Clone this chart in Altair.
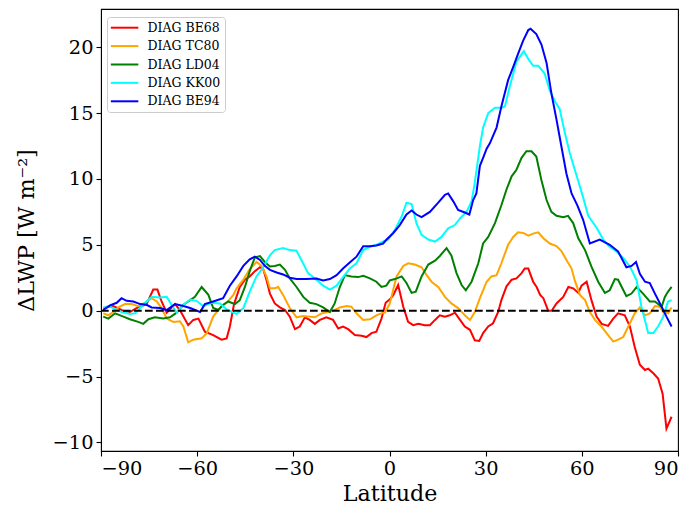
import altair as alt
import pandas as pd

series_names = ["DIAG BE68", "DIAG TC80", "DIAG LD04", "DIAG KK00", "DIAG BE94"]
series_colors = ["#ff0000", "#ffa500", "#008000", "#00ffff", "#0000ff"]

be68_lat = [-89.3, -86.2, -83.1, -81, -78.9, -75.8, -73.7, -72.4, -71.1, -69.5, -66.9, -65.4, -62.8, -61.2,
            -59.6, -57.6, -55, -52.4, -50.8, -49.8, -48.5, -46.7, -45.1, -43.6, -42, -40.4, -39.4, -38.4,
            -37.3, -35.8, -34.2, -32.6, -31.1, -29.5, -28, -26.4, -24.9, -23.3, -21.7, -19.7, -17.6, -16,
            -14.5, -12.9, -10.8, -8.7, -7.2, -5.6, -4.1, -2.5, -1.2, 0.3, 1.2, 2.7, 4.3, 5.8, 7.4, 9, 11,
            12.6, 14.2, 15.7, 17.3, 18.8, 20.4, 22, 23.5, 25.1, 26.6, 28, 29.2, 30.8, 32.3, 33.9, 34.9, 36.5,
            38.1, 39.6, 41.2, 42.2, 43.3, 44.8, 45.9, 47, 48, 49.5, 50.6, 52.1, 54.2, 55.8, 57.3, 58.9, 59.9,
            61.5, 63, 64.6, 66.2, 68.2, 69.8, 71.3, 73.4, 75, 76.5, 78.1, 79.7, 80.7, 82.3, 83.8, 85.2, 86.4, 88]
be68_val = [0.2, 0.35, 0, -0.1, 0.2, 0.5, 1.6, 1.6, 0.7, -0.15, 0.5, 0.05, -1.1, -0.7,
            -0.6, -1.6, -1.85, -2.2, -2.1, -1.2, 0.5, 1.8, 2.35, 2.6, 3.0, 3.3, 3.15, 2.35,
            1.3, 0.55, 0.25, 0.05, -0.45, -1.4, -1.2, -0.5, -0.7, -1.0, -0.7, -0.5, -0.7, -1.35,
            -1.2, -1.4, -1.85, -1.9, -2.0, -1.7, -1.6, -0.6, 0.6, 0.9, 1.2, 1.95, 0.3, -0.85, -1.1, -1.0, -1.1,
            -1.1, -0.7, -0.35, -0.45, -0.35, -0.15, -0.7, -1.2, -1.45, -2.25, -2.3, -1.7, -1.2, -0.95, -0.1, 0.8, 1.85,
            2.35, 2.45, 2.85, 3.2, 3.2, 2.2, 1.8, 1.2, 0.95, 0, 0, 0.55, 1.05, 1.8, 1.7, 1.35, 1.9,
            2.2, 0.8, -0.45, -1.0, -1.15, -0.6, -0.2, -0.35, -1.2, -2.75, -4.1, -4.5, -4.4, -4.75, -5.15, -6.3, -8.95, -8.05]

tc80_lat = [-89.3, -87.7, -86.2, -84.6, -82.5, -80.4, -78.4, -76.3, -74.2, -72.6, -71.1, -69.5, -67.4, -65.4,
            -64.3, -62.8, -61.2, -58.6, -57, -55, -52.9, -50.8, -48.7, -47.7, -45.6, -43.6, -41.5, -39.9,
            -38.4, -37.3, -35.8, -34.7, -33.2, -31.1, -29, -26.9, -24.9, -23.3, -21.2, -19.1, -17.6, -15.5,
            -13.4, -11.9, -10.3, -8.2, -6.1, -4.1, -2, -1.4, 0.1, 2.2, 4.3, 5.8, 7.9, 10, 11.6, 13.1, 15.2,
            17.3, 19.3, 21.4, 23.5, 25.1, 26.6, 28.2, 30.3, 31.8, 33.4, 34.9, 37, 38.6, 40.1, 41.7, 43.3,
            44.8, 46.4, 48, 50, 52.1, 53.7, 55.2, 56.8, 57.8, 59.4, 61, 62.5, 64.1, 66.1, 68.2, 69.8, 71.3,
            72.9, 75, 76.5, 78.1, 79.7, 81.2, 82.8, 84.3, 85.4, 86.9, 88]
tc80_val = [-0.2, -0.35, -0.1, 0.25, 0.5, 0.5, 0.35, 0.6, 0.95, 0.7, 0.2, -0.6, -0.85, -0.8,
            -1.2, -2.4, -2.2, -2.1, -1.7, -0.45, 0.2, 0.6, 1.2, 1.7, 2.35, 3.15, 3.7, 3.4,
            2.6, 1.7, 1.7, 1.8, 1.2, 0.2, -0.5, -0.4, -0.45, -0.5, -0.2, -0.1, 0, 0.25,
            0.35, 0.3, -0.2, -0.7, -0.65, -0.35, -0.15, -0.15, 0.55, 2.6, 3.4, 3.6, 3.5, 3.3, 2.7, 2.2, 1.8,
            1.05, 0.55, 0.2, -0.35, -0.7, -0.1, 0.95, 2.2, 2.6, 2.7, 3.6, 5.0, 5.6, 5.95, 5.9, 5.7,
            5.85, 5.95, 5.5, 5.1, 4.9, 4.5, 3.85, 3.2, 2.3, 1.2, 0.8, -0.1, -0.7, -1.2, -1.85, -2.35, -2.2,
            -2.0, -0.95, -0.2, 0.25, -0.35, -0.2, 0.35, 0.3, -0.1, -0.2, 0.25]

ld04_lat = [-89.3, -87.7, -85.6, -83, -81, -78.4, -76.8, -75.2, -73.2, -70.6, -68.5, -66.4, -64.3, -62.8,
            -60.7, -58.6, -56.5, -55, -53.4, -51.9, -50.3, -48.2, -46.7, -45.1, -43.6, -42, -40.4, -38.9,
            -37.3, -35.8, -34.2, -32.6, -31.1, -29, -26.9, -24.9, -22.8, -20.7, -18.6, -17.1, -15.5, -13.9,
            -11.9, -9.8, -8.2, -6.1, -4.1, -2.5, -1, 0.1, 1.7, 3.8, 5.3, 6.9, 8.2, 10, 12.1, 14.2, 15.7,
            17.8, 19.3, 20.9, 22.5, 23.8, 25.6, 27.7, 29.2, 30.8, 32.9, 34.9, 36.5, 38.1, 39.6, 41.2, 42.7,
            44.3, 45.8, 47.4, 49, 50.5, 52.1, 54.2, 55.7, 57.3, 58.9, 61, 63, 65.1, 67.2, 68.7, 70.3, 71.3,
            73.9, 75.5, 77.1, 79.1, 81.2, 82.8, 84.9, 85.9, 86.9, 88]
ld04_val = [-0.45, -0.6, -0.2, -0.45, -0.65, -0.85, -1.0, -0.65, -0.5, -0.6, -0.5, -0.15, 0.45, 0.7,
            1.05, 1.8, 1.2, 0.2, 0.05, 0.45, 0.7, 0.5, 0.8, 1.8, 3.0, 4.05, 4.15, 3.7,
            3.35, 3.4, 3.5, 3.1, 2.45, 1.8, 1.05, 0.6, 0.5, 0.25, -0.1, 0.55, 1.8, 2.7,
            2.6, 2.55, 2.65, 2.45, 2.2, 1.8, 1.9, 2.3, 2.4, 2.6, 2.1, 1.35, 1.45, 2.6, 3.5, 3.8, 4.15,
            4.75, 4.2, 2.85, 1.95, 1.55, 2.2, 3.6, 5.1, 5.6, 6.65, 8.0, 9.2, 10.2, 10.7, 11.6, 12.1,
            12.1, 11.7, 9.9, 8.4, 7.5, 7.2, 7.1, 7.2, 6.65, 5.5, 4.6, 3.35, 2.2, 1.35, 1.55, 2.4, 2.35,
            1.1, 1.3, 1.8, 1.3, 0.7, 0.7, 0.3, 1.05, 1.45, 1.8]

kk00_lat = [-89.3, -87.7, -86.2, -83.6, -81, -79.4, -77.8, -75.8, -74.2, -71.6, -69.5, -68, -66.4, -64.3,
            -62.2, -60.2, -58.1, -55.5, -52.9, -50.8, -48.7, -47.7, -45.6, -43.6, -41.5, -39.4, -37.3, -35.8,
            -33.2, -31.1, -29, -27.5, -25.4, -22.8, -20.7, -18.6, -16.5, -14.5, -12.4, -10.3, -8.2, -6.1,
            -4.1, -2, -0.4, 1.7, 3.8, 5.3, 6.9, 8.4, 10, 12.1, 14.2, 16.2, 18.3, 20.4, 22, 24, 25.6, 26.6,
            28.2, 29.2, 30.8, 32.9, 34.9, 36, 37.5, 39.6, 41.9, 43.3, 44.8, 46.4, 48.4, 50, 51.6, 53.1, 54.7,
            56.2, 57.8, 58.8, 60.4, 62, 64.6, 66.7, 68.7, 70.8, 72.9, 75, 77.1, 78.6, 80.7, 82.3, 83.8, 85.4,
            86.9, 88]
kk00_val = [0.2, 0.35, 0.2, -0.1, -0.25, -0.2, 0.2, 0.7, 1.05, 1.0, 1.05, 0.45, -0.15, 0.45,
            0.85, 0.75, 0.35, 0.6, 0.55, 0.1, -0.15, -0.25, 0.2, 1.45, 2.6, 3.3, 4.2, 4.6,
            4.75, 4.6, 4.55, 3.85, 2.85, 2.35, 1.9, 1.6, 1.9, 2.55, 3.2, 3.6, 4.6, 4.85,
            5.0, 5.25, 5.4, 6.15, 7.15, 8.2, 8.1, 6.65, 5.75, 5.4, 5.25, 5.6, 6.25, 6.5, 7.0, 7.5, 8.3, 9.7,
            12.5, 13.9, 15.0, 15.4, 15.4, 15.5, 17.0, 18.9, 19.7, 19.1, 18.6, 18.6, 18.0, 16.7, 15.9, 15.3, 13.5,
            12.0, 10.7, 9.9, 8.6, 7.2, 6.3, 5.4, 4.85, 4.5, 4.0, 3.35, 2.3, 0.3, -1.7, -1.7, -1.2, -0.45,
            0.7, 0.8]

be94_lat = [-89.3, -87.2, -85.1, -83.6, -82, -79.9, -77.8, -75.8, -74.2, -71.6, -69.5, -66.9, -64.3, -62.2,
            -59.1, -57.6, -55, -51.9, -49.8, -47.7, -45.6, -43.6, -42, -40.4, -38.9, -37.3, -35.2, -33.2,
            -31.1, -29, -25.9, -22.8, -20.7, -18.6, -16.5, -14.5, -12.4, -10.3, -8.2, -6.1, -4.1, -2, -0.9,
            1.2, 3.2, 5.3, 6.9, 8.4, 10, 12.6, 15.2, 17.3, 18.3, 19.9, 21.4, 23.5, 24.9, 26.1, 27.1, 28.2,
            29.2, 30.3, 31.3, 33.4, 34.9, 37, 38.6, 40.1, 41.7, 43.3, 44, 45.8, 47.4, 49, 50.5, 52.1, 53.6,
            55.2, 56.8, 58.6, 60.4, 62.5, 65.6, 68.7, 71.3, 73.9, 75.5, 76.9, 78.1, 79.7, 81.2, 82.8, 84.9,
            86.4, 88]
be94_val = [0.05, 0.4, 0.6, 0.95, 0.75, 0.7, 0.5, 0.45, 0.25, 0.2, 0.05, 0.5, 0.35, 0.2,
            -0.1, 0.5, 0.7, 0.95, 1.9, 2.6, 3.4, 3.9, 4.1, 3.85, 3.4, 3.1, 2.9, 2.75,
            2.5, 2.4, 2.4, 2.45, 2.3, 2.4, 2.7, 3.2, 3.65, 4.1, 4.9, 4.9, 4.95, 5.1, 5.4,
            5.9, 6.5, 7.3, 7.6, 7.3, 7.1, 7.5, 8.2, 8.8, 8.9, 8.3, 7.65, 7.45, 7.3, 8.4, 8.9, 11.0,
            11.6, 12.3, 12.7, 13.9, 15.5, 17.5, 18.5, 19.5, 20.5, 21.3, 21.4, 21.0, 20.2, 18.8, 16.5, 14.5, 12.5,
            10.4, 8.9, 8.0, 6.9, 5.1, 5.4, 5.0, 4.5, 3.3, 3.4, 3.7, 2.8, 2.2, 2.1, 1.3, 0.3,
            -0.45, -1.2]

x_ticks = [-90, -60, -30, 0, 30, 60, 90]
y_ticks = [-10, -5, 0, 5, 10, 15, 20]
zero_line = [{"lat0": -90, "lat1": 90, "y": 0}]

lats = [be68_lat, tc80_lat, ld04_lat, kk00_lat, be94_lat]
vals = [be68_val, tc80_val, ld04_val, kk00_val, be94_val]
rows = []
for i, (name, la, va) in enumerate(zip(series_names, lats, vals)):
    for j, (a, b) in enumerate(zip(la, va)):
        rows.append({"series": name, "order": i, "idx": j, "lat": a, "val": b})
df = pd.DataFrame(rows)

FONT = "DejaVu Serif"
xscale = alt.Scale(domain=[-90, 90], nice=False, zero=False)
yscale = alt.Scale(domain=[-10.65, 22.9], nice=False, zero=False)

lines = alt.Chart(df).mark_line(strokeWidth=2, clip=True).encode(
    x=alt.X("lat:Q", scale=xscale,
            axis=alt.Axis(values=x_ticks, title="Latitude", format="d")),
    y=alt.Y("val:Q", scale=yscale,
            axis=alt.Axis(values=y_ticks, title="ΔLWP [W m⁻²]", format="d")),
    color=alt.Color("series:N",
                    scale=alt.Scale(domain=series_names, range=series_colors),
                    legend=alt.Legend(title=None, orient="none", legendX=6, legendY=8,
                                      symbolType="M-2.5,0H2.5", symbolSize=121, symbolStrokeWidth=2,
                                      symbolOffset=6.9,
                                      labelFont=FONT, labelFontSize=12.5, labelColor="black",
                                      labelOffset=16.5, padding=4.2, rowPadding=5.4,
                                      fillColor="rgba(255,255,255,0.8)", strokeColor="#cccccc",
                                      cornerRadius=3)),
    detail="order:O",
    order="idx:Q",
)

rule = alt.Chart(pd.DataFrame(zero_line)).mark_rule(
    color="black", strokeWidth=2, strokeDash=[7.7, 3.3]
).encode(x=alt.X("lat0:Q", scale=xscale), x2="lat1:Q", y=alt.Y("y:Q", scale=yscale))

chart = alt.layer(lines, rule).properties(
    width=577, height=442,
    padding={"left": 93, "top": 1, "right": 6, "bottom": 56},
    autosize=alt.AutoSizeParams(type="none"),
).configure_view(stroke="black", strokeWidth=1.1).configure_axis(
    grid=False, domainColor="black", tickColor="black", tickSize=5, tickWidth=1.1,
    labelFont=FONT, labelFontSize=19.4, labelColor="black", labelPadding=3,
    titleFont=FONT, titleFontSize=22.2, titleFontWeight="normal", titleColor="black",
).configure_axisX(titlePadding=5).configure_axisY(titlePadding=14)

chart.save("out.html", embed_options={"renderer": "svg", "actions": False})
